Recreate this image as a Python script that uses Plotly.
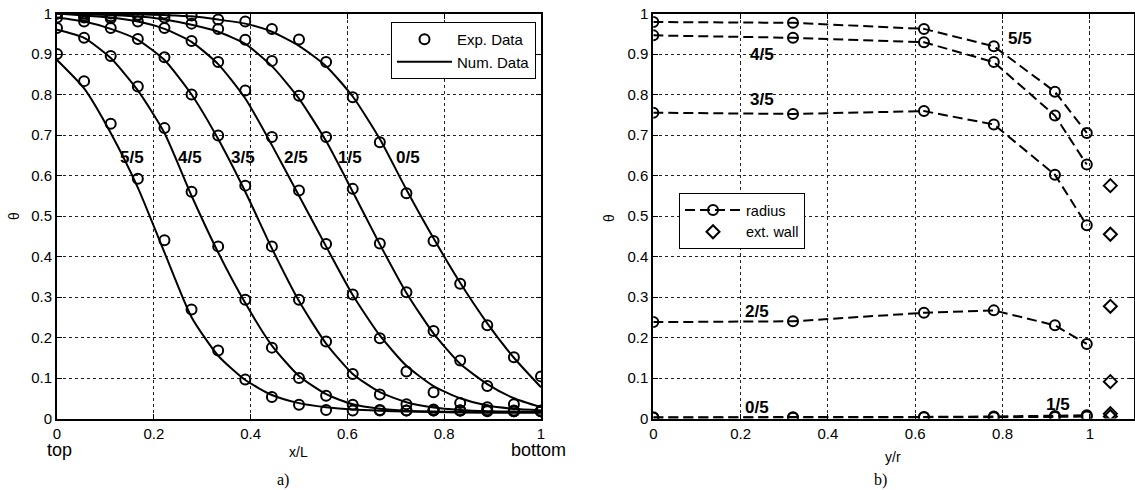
import plotly.graph_objects as go

# ---------------- data: panel a) ----------------
x_exp = [0.0, 0.056, 0.111, 0.167, 0.222, 0.278, 0.333, 0.389, 0.444, 0.5,
         0.556, 0.611, 0.667, 0.722, 0.778, 0.833, 0.889, 0.944, 1.0]
curve_labels = ["0/5", "1/5", "2/5", "3/5", "4/5", "5/5"]

exp_0 = [1.0, 1.0, 1.0, 0.997, 1.0, 0.995, 0.985, 0.98, 0.962, 0.936,
         0.88, 0.793, 0.682, 0.556, 0.438, 0.333, 0.23, 0.151, 0.104]
exp_1 = [1.0, 0.995, 0.993, 0.995, 0.99, 0.975, 0.962, 0.935, 0.883, 0.797,
         0.695, 0.567, 0.432, 0.312, 0.216, 0.143, 0.08, 0.035, 0.02]
exp_2 = [1.0, 0.99, 0.988, 0.98, 0.964, 0.932, 0.88, 0.81, 0.695, 0.563,
         0.431, 0.306, 0.198, 0.116, 0.065, 0.038, 0.028, 0.02, 0.018]
exp_3 = [0.99, 0.98, 0.964, 0.937, 0.892, 0.80, 0.699, 0.575, 0.425, 0.293,
         0.19, 0.11, 0.059, 0.035, 0.022, 0.02, 0.02, 0.018, 0.018]
exp_4 = [0.964, 0.94, 0.895, 0.82, 0.717, 0.56, 0.425, 0.293, 0.175, 0.1,
         0.056, 0.034, 0.021, 0.02, 0.02, 0.02, 0.02, 0.018, 0.018]
exp_5 = [0.90, 0.833, 0.728, 0.592, 0.44, 0.269, 0.168, 0.096, 0.053, 0.034,
         0.021, 0.02, 0.02, 0.02, 0.02, 0.02, 0.018, 0.018, 0.018]

num_0 = [1.0, 1.0, 0.999, 0.998, 0.996, 0.993, 0.985, 0.975, 0.955, 0.92,
         0.87, 0.795, 0.69, 0.565, 0.445, 0.335, 0.235, 0.15, 0.077]
num_1 = [1.0, 0.998, 0.996, 0.993, 0.985, 0.972, 0.955, 0.925, 0.87, 0.79,
         0.685, 0.56, 0.43, 0.31, 0.21, 0.135, 0.085, 0.05, 0.028]
num_2 = [1.0, 0.995, 0.99, 0.98, 0.962, 0.93, 0.875, 0.79, 0.675, 0.55,
         0.425, 0.305, 0.205, 0.13, 0.08, 0.05, 0.032, 0.024, 0.02]
num_3 = [0.99, 0.98, 0.962, 0.935, 0.885, 0.80, 0.69, 0.56, 0.42, 0.29,
         0.185, 0.11, 0.065, 0.04, 0.027, 0.021, 0.018, 0.017, 0.016]
num_4 = [0.96, 0.94, 0.89, 0.81, 0.705, 0.55, 0.41, 0.285, 0.18, 0.105,
         0.06, 0.035, 0.024, 0.019, 0.017, 0.016, 0.015, 0.015, 0.015]
num_5 = [0.885, 0.815, 0.705, 0.57, 0.41, 0.25, 0.155, 0.095, 0.058, 0.038,
         0.028, 0.022, 0.019, 0.017, 0.016, 0.015, 0.015, 0.015, 0.015]

label_x_a = [0.725, 0.606, 0.494, 0.384, 0.275, 0.154]
label_y_a = [0.645, 0.645, 0.645, 0.645, 0.645, 0.645]

# ---------------- data: panel b) ----------------
y_r = [0.0, 0.32, 0.62, 0.78, 0.92, 0.993]
rad_0 = [0.002, 0.002, 0.003, 0.003, 0.004, 0.005]
rad_1 = [0.003, 0.003, 0.004, 0.005, 0.006, 0.008]
rad_2 = [0.238, 0.240, 0.261, 0.267, 0.230, 0.184]
rad_3 = [0.755, 0.752, 0.759, 0.726, 0.602, 0.477]
rad_4 = [0.946, 0.940, 0.929, 0.880, 0.748, 0.627]
rad_5 = [0.979, 0.977, 0.962, 0.919, 0.807, 0.705]

wall_x = [1.047, 1.047, 1.047, 1.047, 1.047, 1.047]
wall_y = [0.575, 0.455, 0.277, 0.091, 0.012, 0.005]

label_x_b = [0.237, 0.927, 0.237, 0.248, 0.248, 0.84]
label_y_b = [0.026, 0.035, 0.265, 0.788, 0.899, 0.9375]

# ---------------- figure ----------------
W, H = 1135, 490
def px(v):
    return v / W
def py(v):
    return 1 - v / H

fig = go.Figure()
exps = [exp_0, exp_1, exp_2, exp_3, exp_4, exp_5]
nums = [num_0, num_1, num_2, num_3, num_4, num_5]
for i in range(6):
    fig.add_trace(go.Scatter(
        x=x_exp, y=nums[i], mode="lines", line=dict(color="black", width=2, shape="spline", smoothing=0.6),
        name="Num. Data", showlegend=(i == 0), legend="legend", xaxis="x", yaxis="y", legendrank=2))
for i in range(6):
    fig.add_trace(go.Scatter(
        x=x_exp, y=exps[i], mode="markers",
        marker=dict(symbol="circle-open", size=10, color="black", line=dict(width=2, color="black")),
        name="Exp. Data", showlegend=(i == 0), legend="legend", xaxis="x", yaxis="y", legendrank=1))

rads = [rad_0, rad_1, rad_2, rad_3, rad_4, rad_5]
for i in range(6):
    fig.add_trace(go.Scatter(
        x=y_r, y=rads[i], mode="lines+markers",
        line=dict(color="black", width=2, dash="10px,5px"),
        marker=dict(symbol="circle-open", size=10, color="black", line=dict(width=2, color="black")),
        name="radius", showlegend=(i == 0), legend="legend2", xaxis="x2", yaxis="y2", legendrank=1))
fig.add_trace(go.Scatter(
    x=wall_x, y=wall_y, mode="markers",
    marker=dict(symbol="diamond-open", size=10, color="black", line=dict(width=2, color="black")),
    name="ext. wall", legend="legend2", xaxis="x2", yaxis="y2", legendrank=2))

axis_common = dict(
    showline=True, linecolor="black", linewidth=2, mirror="ticks",
    ticks="inside", ticklen=5, tickcolor="black", tickwidth=1,
    showgrid=True, gridcolor="#222", griddash="dot", gridwidth=1,
    zeroline=False, automargin=False,
    tickfont=dict(family="Liberation Sans", size=15, color="black"),
)

ydom = [py(418.5), py(13.5)]
fig.update_layout(
    width=W, height=H,
    margin=dict(l=0, r=0, t=0, b=0, autoexpand=False),
    paper_bgcolor="white", plot_bgcolor="white",
    font=dict(family="Liberation Sans", color="black"),
    xaxis=dict(domain=[px(57), px(541)], range=[0, 1], tickvals=[0, 0.2, 0.4, 0.6, 0.8, 1],
               anchor="y", **axis_common),
    yaxis=dict(domain=ydom, range=[0, 1], dtick=0.1, anchor="x", **axis_common),
    xaxis2=dict(domain=[px(653.3), px(1133.5)], range=[0, 1.1], tickvals=[0, 0.2, 0.4, 0.6, 0.8, 1],
                anchor="y2", **axis_common),
    yaxis2=dict(domain=ydom, range=[0, 1], dtick=0.1, anchor="x2", **axis_common),
    legend=dict(x=px(391), y=py(22), xanchor="left", yanchor="top",
                bgcolor="white", bordercolor="black", borderwidth=1,
                font=dict(family="Liberation Sans", size=15, color="black"),
                tracegroupgap=0, itemwidth=55),
    legend2=dict(x=px(679), y=py(193), xanchor="left", yanchor="top",
                 bgcolor="white", bordercolor="black", borderwidth=1,
                 font=dict(family="Liberation Sans", size=14.5, color="black"),
                 tracegroupgap=0, itemwidth=56),
)

ann = []
for t, xx, yy in zip(curve_labels, label_x_a, label_y_a):
    ann.append(dict(text="<b>%s</b>" % t, x=xx, y=yy, xref="x", yref="y", showarrow=False,
                    font=dict(family="Liberation Sans", size=17, color="black")))
for t, xx, yy in zip(curve_labels, label_x_b, label_y_b):
    ann.append(dict(text="<b>%s</b>" % t, x=xx, y=yy, xref="x2", yref="y2", showarrow=False,
                    font=dict(family="Liberation Sans", size=17, color="black")))

def paper_text(text, x, y, size, family="Liberation Sans", angle=0):
    ann.append(dict(text=text, x=px(x), y=py(y), xref="paper", yref="paper", showarrow=False,
                    xanchor="center", yanchor="middle", textangle=angle,
                    font=dict(family=family, size=size, color="black")))

paper_text("θ", 14, 216, 14, angle=-90)
paper_text("x/L", 298, 452, 14)
paper_text("top", 59, 450, 18)
paper_text("bottom", 538, 450, 18)
paper_text("a)", 283, 480, 16, family="Liberation Serif")
paper_text("θ", 609, 218, 14, angle=-90)
paper_text("y/r", 893, 457, 14)
paper_text("b)", 880, 480, 16, family="Liberation Serif")

fig.update_layout(annotations=ann)
# remove the default page margin so the figure sits at the window's top-left corner
fig.write_html("out.html", config={"displayModeBar": False},
               post_script="document.body.style.margin='0';")
